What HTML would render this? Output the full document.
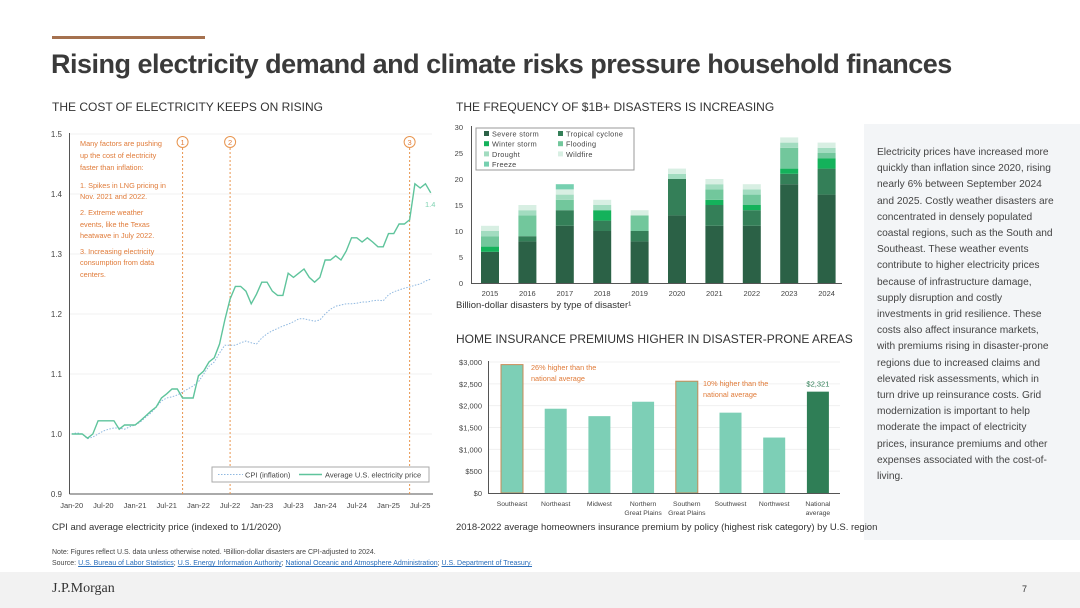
<!DOCTYPE html>
<html><head><meta charset="utf-8"><style>
body{margin:0;width:1080px;height:608px;background:#fff;font-family:"Liberation Sans",sans-serif;position:relative;overflow:hidden;color:#3c3c3c}
.abs{position:absolute}
</style></head><body>
<div class="abs" style="left:52px;top:36px;width:153px;height:3px;background:#a5714f"></div>
<div class="abs" style="left:51px;top:49px;font-size:27px;font-weight:bold;color:#3a3a3a;letter-spacing:-0.5px">Rising electricity demand and climate risks pressure household finances</div>
<div class="abs" style="left:52px;top:100px;font-size:12px;color:#333">THE COST OF ELECTRICITY KEEPS ON RISING</div>
<div class="abs" style="left:456px;top:100px;font-size:12px;color:#333">THE FREQUENCY OF $1B+ DISASTERS IS INCREASING</div>
<div class="abs" style="left:456px;top:332px;font-size:12px;color:#333">HOME INSURANCE PREMIUMS HIGHER IN DISASTER-PRONE AREAS</div>
<div class="abs" style="left:864px;top:124px;width:216px;height:416px;background:#f3f5f7"></div>
<div class="abs" style="left:877px;top:145px;white-space:nowrap;font-size:10.2px;line-height:16.2px;color:#444">Electricity prices have increased more<br>quickly than inflation since 2020, rising<br>nearly 6% between September 2024<br>and 2025. Costly weather disasters are<br>concentrated in densely populated<br>coastal regions, such as the South and<br>Southeast. These weather events<br>contribute to higher electricity prices<br>because of infrastructure damage,<br>supply disruption and costly<br>investments in grid resilience. These<br>costs also affect insurance markets,<br>with premiums rising in disaster-prone<br>regions due to increased claims and<br>elevated risk assessments, which in<br>turn drive up reinsurance costs. Grid<br>modernization is important to help<br>moderate the impact of electricity<br>prices, insurance premiums and other<br>expenses associated with the cost-of-<br>living.</div>
<div class="abs" style="left:52px;top:522px;font-size:9.5px;color:#333">CPI and average electricity price (indexed to 1/1/2020)</div>
<div class="abs" style="left:456px;top:300px;font-size:9.5px;color:#333">Billion-dollar disasters by type of disaster¹</div>
<div class="abs" style="left:456px;top:522px;font-size:9.5px;color:#333">2018-2022 average homeowners insurance premium by policy (highest risk category) by U.S. region</div>
<div class="abs" style="left:52px;top:547px;font-size:7px;line-height:11px;color:#444">Note: Figures reflect U.S. data unless otherwise noted. ¹Billion-dollar disasters are CPI-adjusted to 2024.<br>Source: <u style="color:#2a6ebb">U.S. Bureau of Labor Statistics</u>; <u style="color:#2a6ebb">U.S. Energy Information Authority</u>; <u style="color:#2a6ebb">National Oceanic and Atmosphere Administration</u>; <u style="color:#2a6ebb">U.S. Department of Treasury.</u></div>
<div class="abs" style="left:0;top:572px;width:1080px;height:36px;background:#f2f2f2"></div>
<div class="abs" style="left:52px;top:581px;font-family:'Liberation Serif',serif;font-size:14px;color:#333">J.P.Morgan</div>
<div class="abs" style="left:1022px;top:584px;font-size:9px;color:#333">7</div>
<svg class="abs" style="left:0;top:0" width="1080" height="608" id="svg"></svg>
<script>
// ---- Left line chart data ----
const months=["Jan-20","Jul-20","Jan-21","Jul-21","Jan-22","Jul-22","Jan-23","Jul-23","Jan-24","Jul-24","Jan-25","Jul-25"];
const elec=[1.0,1.0,1.0,0.993,1.0,1.022,1.022,1.022,1.022,1.008,1.015,1.015,1.015,1.022,1.03,1.038,1.045,1.06,1.067,1.075,1.075,1.06,1.06,1.06,1.097,1.105,1.12,1.127,1.15,1.19,1.225,1.246,1.246,1.238,1.217,1.233,1.253,1.253,1.238,1.231,1.231,1.268,1.261,1.268,1.275,1.261,1.253,1.261,1.29,1.29,1.297,1.29,1.305,1.327,1.327,1.32,1.327,1.32,1.312,1.312,1.334,1.334,1.35,1.35,1.357,1.417,1.41,1.417,1.402];
const cpi=[1.0,1.002,1.0,0.992,0.995,1.0,1.005,1.008,1.01,1.01,1.008,1.012,1.015,1.02,1.028,1.035,1.045,1.055,1.06,1.062,1.065,1.07,1.075,1.08,1.087,1.1,1.113,1.12,1.135,1.148,1.148,1.148,1.152,1.155,1.152,1.15,1.16,1.167,1.172,1.176,1.18,1.183,1.187,1.192,1.192,1.19,1.188,1.19,1.2,1.208,1.213,1.215,1.217,1.217,1.218,1.22,1.22,1.222,1.223,1.222,1.232,1.237,1.24,1.243,1.245,1.248,1.25,1.255,1.258];
const yTicksL=[0.9,1.0,1.1,1.2,1.3,1.4,1.5];
const eventMonths=[21,30,64];
// ---- Disasters ----
const years=["2015","2016","2017","2018","2019","2020","2021","2022","2023","2024"];
const severe=[6,8,11,10,8,13,11,11,19,17];
const tropical=[0,1,3,2,2,7,4,3,2,5];
const winter=[1,0,0,2,0,0,1,1,1,2];
const flooding=[2,4,2,0,3,0,2,2,4,1];
const drought=[1,1,1,1,0,1,1,1,1,1];
const wildfire=[1,1,1,1,1,1,1,1,1,1];
const freeze=[0,0,1,0,0,0,0,0,0,0];
const dTicks=[0,5,10,15,20,25,30];
// ---- Insurance ----
const regions=[["Southeast"],["Northeast"],["Midwest"],["Northern","Great Plains"],["Southern","Great Plains"],["Southwest"],["Northwest"],["National","average"]];
const premiums=[2940,1930,1760,2090,2560,1840,1270,2321];
const pTicks=[0,500,1000,1500,2000,2500,3000];

const NS="http://www.w3.org/2000/svg",svg=document.getElementById('svg');
function el(t,a,txt){const e=document.createElementNS(NS,t);for(const k in a)e.setAttribute(k,a[k]);if(txt!==undefined)e.textContent=txt;svg.appendChild(e);return e;}
const F='"Liberation Sans",sans-serif';

const lx=m=>71.7+m*5.28, ly=v=>494-(v-0.9)*600;
yTicksL.forEach(v=>{
 if(v>0.9){let g=el('line',{x1:70,x2:432,y1:ly(v),y2:ly(v),stroke:'#f0f0f0'});}
 let t=el('text',{x:62,y:ly(v)+3,'text-anchor':'end','font-size':8,fill:'#444','font-family':F},v.toFixed(1));
 
});
months.forEach((m,i)=>{let t=el('text',{x:lx(i*6),y:508,'text-anchor':'middle','font-size':7.5,fill:'#444','font-family':F},m);
 });
let a1=el('line',{x1:69.5,x2:69.5,y1:133,y2:494,stroke:'#555'});
let a2=el('line',{x1:69.5,x2:433,y1:494,y2:494,stroke:'#555'});
eventMonths.forEach((m,i)=>{
 let l=el('line',{x1:lx(m),x2:lx(m),y1:148,y2:494,stroke:'#e8954f','stroke-dasharray':'2,2'});
 let c=el('circle',{cx:lx(m),cy:142,r:5.5,fill:'#fff',stroke:'#e8954f'});
 let t=el('text',{x:lx(m),y:145,'text-anchor':'middle','font-size':7.5,fill:'#e07b39','font-family':F},String(i+1));
});
const cp=el('polyline',{points:cpi.map((v,i)=>lx(i)+','+ly(v)).join(' '),fill:'none',stroke:'#8fb8e0','stroke-width':1,'stroke-dasharray':'1.5,1.5'});

const ep=el('polyline',{points:elec.map((v,i)=>lx(i)+','+ly(v)).join(' '),fill:'none',stroke:'#5fc49c','stroke-width':1.4});

let lbl=el('text',{x:425,y:207,'font-size':7.5,fill:'#7fd3b2','font-family':F},'1.4');
const ann=[[143,"Many factors are pushing"],[155,"up the cost of electricity"],[167,"faster than inflation:"],[185,"1. Spikes in LNG pricing in"],[196,"Nov. 2021 and 2022."],[212,"2. Extreme weather"],[224,"events, like the Texas"],[235,"heatwave in July 2022."],[251,"3. Increasing electricity"],[262,"consumption from data"],[274,"centers."]];
ann.forEach(a=>{let t=el('text',{x:80,y:a[0]+3,'font-size':7.3,fill:'#e07b39','font-family':F},a[1]);});
let lg=el('rect',{x:212,y:467,width:217,height:15,fill:'#fff',stroke:'#aaa'});
let l1=el('line',{x1:218,x2:243,y1:474.5,y2:474.5,stroke:'#8fb8e0','stroke-dasharray':'1.5,1.5'});
let t1=el('text',{x:245,y:477.5,'font-size':7.5,fill:'#444','font-family':F},'CPI (inflation)');
let l2=el('line',{x1:299,x2:322,y1:474.5,y2:474.5,stroke:'#5fc49c','stroke-width':1.4});
let t2=el('text',{x:325,y:477.5,'font-size':7.5,fill:'#444','font-family':F},'Average U.S. electricity price');

const dx=i=>490+i*37.4, dy=v=>283-v*5.2;
dTicks.forEach(v=>{let t=el('text',{x:463,y:dy(v)+3,'text-anchor':'end','font-size':7.5,fill:'#444','font-family':F},String(v));});
const series=[[severe,'#2b6146','Severe storm'],[tropical,'#347f58','Tropical cyclone'],[winter,'#14b25b','Winter storm'],[flooding,'#72c79c','Flooding'],[drought,'#a2dcc0','Drought'],[wildfire,'#d8efe3','Wildfire'],[freeze,'#76d0b0','Freeze']];
years.forEach((y,i)=>{let base=0;series.forEach(s=>{const v=s[0][i];if(v>0){let r=el('rect',{x:dx(i)-9,y:dy(base+v),width:18,height:v*5.2,fill:s[1]});}base+=v;});
 let t=el('text',{x:dx(i),y:296,'text-anchor':'middle','font-size':7.5,fill:'#444','font-family':F},y);});
let da=el('line',{x1:471.5,x2:471.5,y1:126,y2:283,stroke:'#555'});
let db=el('line',{x1:471,x2:842,y1:283.5,y2:283.5,stroke:'#555'});
let dl=el('rect',{x:476,y:128,width:158,height:42,fill:'#fff',stroke:'#999'});
series.forEach((s,k)=>{const cx=487+(k%2)*74,cy=134+Math.floor(k/2)*10.2;
 let r=el('rect',{x:cx-3,y:cy-3,width:5,height:5,fill:s[1]});
 let t=el('text',{x:cx+5,y:cy+2.5,'font-size':7.3,fill:'#444','font-family':F,'letter-spacing':'0.3'},s[2]);});

const px=i=>512+i*43.7, py=v=>493-v*131/3000;
pTicks.forEach(v=>{
 if(v>0){let g=el('line',{x1:488,x2:840,y1:py(v),y2:py(v),stroke:'#f0f0f0'});}
 let t=el('text',{x:482,y:py(v)+3,'text-anchor':'end','font-size':7.5,fill:'#444','font-family':F},'$'+v.toLocaleString('en-US'));});
premiums.forEach((v,i)=>{const hl=(i===0||i===4),nat=i===7;
 let r=el('rect',{x:px(i)-11,y:py(v),width:22,height:493-py(v),fill:nat?'#2f7e56':'#7dcfb6',stroke:hl?'#c98a55':'none','stroke-width':1});
 regions[i].forEach((ln,j)=>{let t=el('text',{x:px(i),y:506+j*9,'text-anchor':'middle','font-size':6.8,fill:'#444','font-family':F},ln);});});
let ia=el('line',{x1:488.5,x2:488.5,y1:361,y2:493,stroke:'#555'});
let ib=el('line',{x1:488,x2:840,y1:493.5,y2:493.5,stroke:'#555'});
[[531,370,"26% higher than the"],[531,381,"national average"],[703,386,"10% higher than the"],[703,397,"national average"]].forEach(a=>{let t=el('text',{x:a[0],y:a[1],'font-size':7.3,fill:'#e07b39','font-family':F},a[2]);});
let nv=el('text',{x:px(7),y:py(premiums[7])-5,'text-anchor':'middle','font-size':7.5,fill:'#2f7e56','font-family':F},'$'+premiums[7].toLocaleString('en-US'));
</script>
</body></html>
